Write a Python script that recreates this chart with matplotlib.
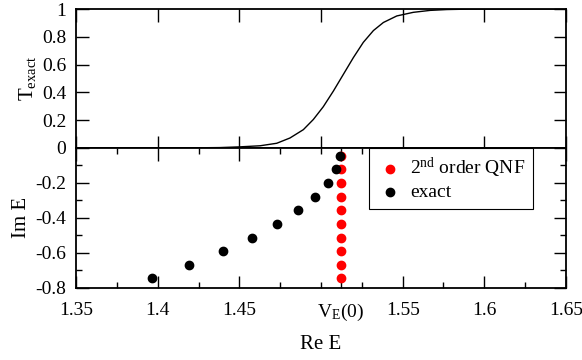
import matplotlib
matplotlib.use("Agg")
import matplotlib.pyplot as plt

plt.rcParams['font.family'] = ['Liberation Serif', 'DejaVu Serif']
plt.rcParams['mathtext.fontset'] = 'custom'
plt.rcParams['mathtext.rm'] = 'Liberation Serif'
plt.rcParams['mathtext.it'] = 'Liberation Serif:italic'
plt.rcParams['font.size'] = 14

# transmission curve (top panel)
t_re = [1.35, 1.40, 1.42, 1.438, 1.450, 1.4627, 1.4729, 1.4810, 1.4892, 1.4953,
        1.5014, 1.5076, 1.5137, 1.5198, 1.5259, 1.5321, 1.5382, 1.5464, 1.5565,
        1.5668, 1.577, 1.59, 1.61, 1.65]
t_val = [0.0, 0.0, 0.001, 0.003, 0.008, 0.016, 0.034, 0.072, 0.132, 0.205,
         0.297, 0.41, 0.53, 0.65, 0.76, 0.845, 0.903, 0.950, 0.976,
         0.990, 0.996, 0.999, 1.0, 1.0]

# poles (bottom panel)
qnf_re = [1.512] * 10
qnf_im = [-0.044, -0.122, -0.199, -0.279, -0.355, -0.435, -0.514, -0.590, -0.670, -0.746]
ex_re = [1.5117, 1.5092, 1.5041, 1.4962, 1.4859, 1.4729, 1.4580, 1.4398, 1.4194, 1.3964]
ex_im = [-0.044, -0.122, -0.199, -0.279, -0.355, -0.435, -0.514, -0.590, -0.670, -0.746]

xmaj = [1.35, 1.40, 1.45, 1.512, 1.55, 1.60, 1.65]
xlab = ['1.35', '1.4', '1.45', r'V$_{\mathrm{E}}$(0)', '1.55', '1.6', '1.65']
xmin = [1.375, 1.425, 1.475, 1.50, 1.525, 1.575, 1.625]

fig = plt.figure(figsize=(5.82, 3.6), dpi=100)
ax1 = fig.add_axes([0.1306, 0.5889, 0.8419, 0.3861])
ax2 = fig.add_axes([0.1306, 0.2008, 0.8419, 0.3881])

############################ TOP: T exact ############################
ax1.plot(t_re, t_val, color='black', lw=1.0)
ax1.set_xlim(1.35, 1.65)
ax1.set_ylim(0, 1)
ax1.set_xticks([1.35, 1.40, 1.45, 1.50, 1.55, 1.60, 1.65])
ax1.set_xticklabels([])
ax1.set_yticks([0, 0.2, 0.4, 0.6, 0.8, 1.0])
ax1.set_yticklabels(['0', '0.2', '0.4', '0.6', '0.8', '1'])
ax1.set_ylabel(r'T$_{\mathrm{exact}}$', fontsize=15, labelpad=3)

############################ BOTTOM: poles ############################
ax2.scatter(qnf_re, qnf_im, s=36, color='#ff0000', zorder=3, label=r'2$^{\mathrm{nd}}$ order QNF')
ax2.scatter(ex_re, ex_im, s=36, color='black', zorder=4, label='exact')
ax2.set_xlim(1.35, 1.65)
ax2.set_ylim(-0.8, 0)
ax2.set_xticks(xmaj)
ax2.set_xticklabels(xlab)
ax2.set_xticks(xmin, minor=True)
ax2.set_yticks([-0.8, -0.6, -0.4, -0.2, 0])
ax2.set_yticklabels(['-0.8', '-0.6', '-0.4', '-0.2', ''])
ax2.set_yticks([-0.7, -0.5, -0.3, -0.1], minor=True)
ax2.set_ylabel('Im E', fontsize=15, labelpad=3)
ax2.set_xlabel('Re E', fontsize=15, labelpad=9)

leg = ax2.legend(loc='upper left', bbox_to_anchor=(0.598, 1.0), fancybox=False,
                 edgecolor='black', framealpha=1, handletextpad=0.3, handlelength=1.4,
                 borderaxespad=0, fontsize=14, labelspacing=0.2, borderpad=0.4)
leg.get_frame().set_linewidth(0.8)

for ax in (ax1, ax2):
    ax.tick_params(which='major', direction='in', length=9, width=1, top=True, right=True, labelsize=14)
    ax.tick_params(which='minor', direction='in', length=4.5, width=1, top=True, right=True)
    ax.tick_params(axis='x', pad=10)
    ax.tick_params(axis='y', pad=7)
    for s in ax.spines.values():
        s.set_linewidth(1.3)

fig.savefig('out.png', dpi=100)
